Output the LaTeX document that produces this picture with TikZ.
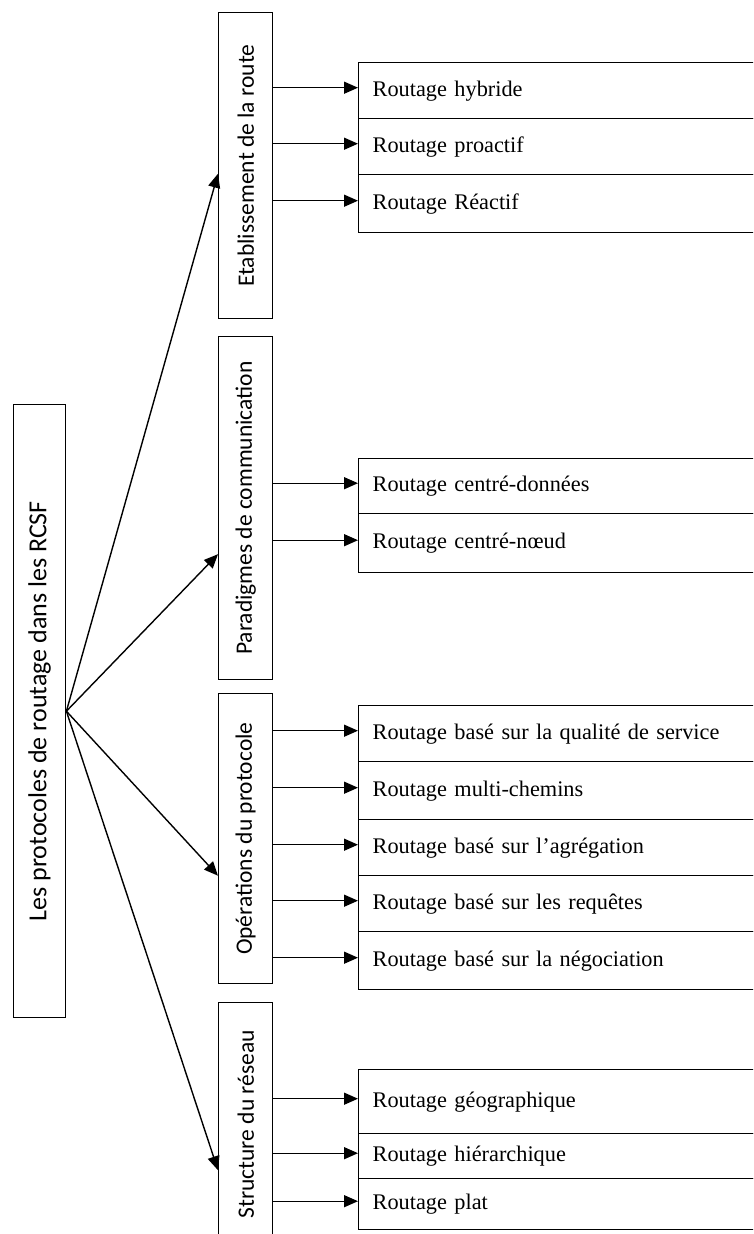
\documentclass[tikz,border=0pt]{standalone}
\usepackage{fontspec}
\usepackage{graphicx}
\setmainfont{Liberation Serif}
\newfontfamily\labfont{Carlito}
\usetikzlibrary{arrows.meta,calc}
\tikzset{
  box/.style={draw=black, line width=1.4pt, inner sep=0pt, anchor=north west},
  catbox/.style={box, minimum width=54pt, font=\labfont\fontsize{23.5}{26}\selectfont},
  rootbox/.style={box, minimum width=52pt, font=\labfont\fontsize{26}{30}\selectfont},
  rowbox/.style={box, minimum width=412pt, text width=384pt, inner xsep=14pt, align=left,
    font=\fontsize{22.3}{26}\selectfont},
  arr/.style={line width=1.4pt, -{Triangle[length=14pt,width=12pt]}},
}
\begin{document}
\begin{tikzpicture}[x=1pt,y=-1pt]
\useasboundingbox (0,0) rectangle (753,1234);
\fill[white] (0,0) rectangle (753,1234);
\clip (0,0) rectangle (753,1234);
% root
\node[rootbox, minimum height=613pt] (L) at (13,404) {\rotatebox{90}{Les protocoles de routage dans les RCSF}};
% categories
\node[catbox, minimum height=306pt] (c1) at (218,12) {\rotatebox{90}{Etablissement de la route}};
\node[catbox, minimum height=343pt] (c2) at (218,336) {\rotatebox{90}{Paradigmes de communication}};
\node[catbox, minimum height=290pt] (c3) at (218,693) {\rotatebox{90}{Opérations du protocole}};
\node[catbox, minimum height=243pt] (c4) at (218,1002) {\rotatebox{90}{Structure du réseau}};
% group 1
\node[rowbox, minimum height=56pt] (r11) at (358,62) {Routage hybride};
\node[rowbox, minimum height=56pt] (r12) at (358,118) {Routage proactif};
\node[rowbox, minimum height=58pt] (r13) at (358,174) {Routage Réactif};
% group 2
\node[rowbox, minimum height=55pt] (r21) at (358,458) {Routage centré-données};
\node[rowbox, minimum height=59pt] (r22) at (358,513) {Routage centré-nœud};
% group 3
\node[rowbox, minimum height=56pt] (r31) at (358,705) {Routage basé sur la qualité de service};
\node[rowbox, minimum height=58pt] (r32) at (358,761) {Routage multi-chemins};
\node[rowbox, minimum height=56pt] (r33) at (358,819) {Routage basé sur l’agrégation};
\node[rowbox, minimum height=56pt] (r34) at (358,875) {Routage basé sur les requêtes};
\node[rowbox, minimum height=58pt] (r35) at (358,931) {Routage basé sur la négociation};
% group 4
\node[rowbox, minimum height=64pt] (r41) at (358,1069) {Routage géographique};
\node[rowbox, minimum height=45pt] (r42) at (358,1133) {Routage hiérarchique};
\node[rowbox, minimum height=51pt] (r43) at (358,1178) {Routage plat};
% root arrows
\draw[arr] (L.east) -- ([yshift=-8pt]c1.west);
\draw[arr] (L.east) -- ([yshift=-46pt]c2.west);
\draw[arr] (L.east) -- ([yshift=-37pt]c3.west);
\draw[arr] (L.east) -- ([yshift=-46pt]c4.west);
% category arrows
\foreach \c/\r in {c1/r11,c1/r12,c1/r13,c2/r21,c2/r22,c3/r31,c3/r32,c3/r33,c3/r34,c3/r35,c4/r41,c4/r42,c4/r43}{
  \draw[arr] ([yshift=3pt]\c.east |- \r.west) -- ([yshift=3pt]\r.west);
}
\end{tikzpicture}
\end{document}
